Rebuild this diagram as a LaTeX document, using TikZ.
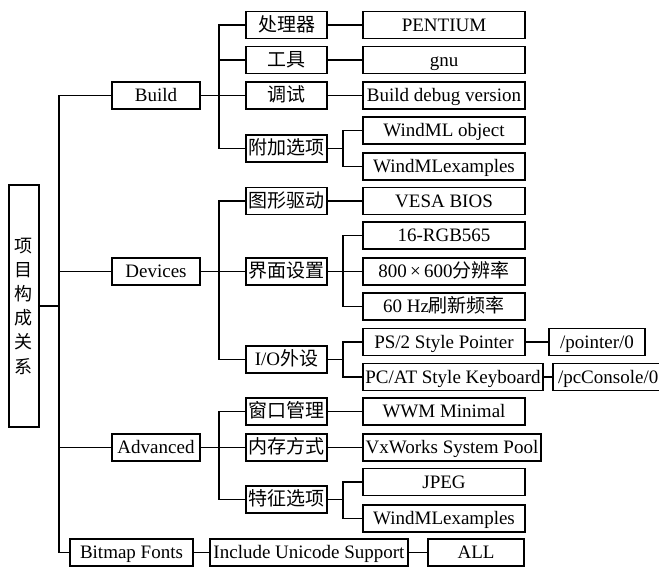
\documentclass[tikz,border=0pt]{standalone}
\usepackage{fontspec}
\setmainfont{Liberation Serif}
\newfontfamily\cjk{Noto Sans CJK SC}
\tikzset{
  box/.style={draw, line width=1.6pt, inner sep=0pt, minimum height=27pt,
    text height=16pt, text depth=3.6pt,
    font=\fontsize{19}{20}\selectfont, anchor=center},
  lone/.style={box, minimum width=88pt},
  ltwo/.style={box, minimum width=81pt},
  lthree/.style={box, minimum width=162pt},
  conn/.style={line width=1.6pt},
}
\begin{document}
\begin{tikzpicture}[x=1pt,y=-1pt]
\clip (0,0) rectangle (659,566);
\fill[white] (0,0) rectangle (659,566);
% root
\node[draw, line width=1.6pt, minimum width=30pt, minimum height=242pt, inner sep=0pt,
  align=center, font=\fontsize{18}{24.2}\selectfont\cjk] (root) at (24,306) {项\\目\\构\\成\\关\\系};
% level 1
\node[lone] (build) at (156,95.5) {Build};
\node[lone] (dev) at (156,271.5) {Devices};
\node[lone] (adv) at (156,447.5) {Advanced};
\node[box, minimum width=123pt] (bmf) at (131.5,552.5) {Bitmap Fonts};
% level 2
\node[ltwo] (cpu) at (286.5,25) {\cjk 处理器};
\node[ltwo] (tool) at (286.5,60) {\cjk 工具};
\node[ltwo] (dbg) at (286.5,95.5) {\cjk 调试};
\node[ltwo] (addl) at (286.5,148.5) {\cjk 附加选项};
\node[ltwo] (gfx) at (286.5,201) {\cjk 图形驱动};
\node[ltwo] (ui) at (286.5,271.5) {\cjk 界面设置};
\node[ltwo] (io) at (286.5,359.5) {I/O{\cjk 外设}};
\node[ltwo] (win) at (286.5,411.5) {\cjk 窗口管理};
\node[ltwo] (mem) at (286.5,447.5) {\cjk 内存方式};
\node[ltwo] (feat) at (286.5,499.5) {\cjk 特征选项};
\node[box, minimum width=198pt] (uni) at (309,552.5) {Include Unicode Support};
% level 3
\node[lthree] (pent) at (444,25) {PENTIUM};
\node[lthree] (gnu) at (444,60) {gnu};
\node[lthree] (bdv) at (444,95.5) {Build debug version};
\node[lthree] (wmo) at (444,130.5) {WindML object};
\node[lthree] (wme) at (444,166.5) {WindMLexamples};
\node[lthree] (vesa) at (444,201) {VESA BIOS};
\node[lthree] (rgb) at (444,235.5) {16-RGB565};
\node[lthree] (res) at (444,271.5) {800\,×\,600{\cjk 分辨率}};
\node[lthree] (hz) at (444,306.5) {60 Hz{\cjk 刷新频率}};
\node[lthree] (ps2) at (444,342) {PS/2 Style Pointer};
\node[box, minimum width=180pt] (pcat) at (453,377) {PC/AT Style Keyboard};
\node[lthree] (wwm) at (444,411.5) {WWM Minimal};
\node[box, minimum width=178pt] (vxw) at (452,447.5) {VxWorks System Pool};
\node[lthree] (jpeg) at (444,482) {JPEG};
\node[lthree] (wme2) at (444,518.5) {WindMLexamples};
\node[box, minimum width=96pt] (all) at (476,552.5) {ALL};
% level 4
\node[box, minimum width=96pt] (ptr) at (597,342) {/pointer/0};
\node[box, minimum width=117pt, text width=107pt, align=left] (pcc) at (611.5,377) {/pcConsole/0};
% junction coordinates
\coordinate (tr) at (59,306);
\coordinate (jb) at (219,0);
\coordinate (jc) at (343,0);
% trunk
\draw[conn] (build.west) -- (build.west -| tr) -- (bmf.west -| tr) -- (bmf.west);
\draw[conn] (dev.west) -- (dev.west -| tr);
\draw[conn] (adv.west) -- (adv.west -| tr);
\draw[conn] (root.east) -- (root.east -| tr);
% build subtree
\draw[conn] (build.east) -- (dbg.west);
\draw[conn] (cpu.west) -- (cpu.west -| jb) -- (addl.west -| jb) -- (addl.west);
\draw[conn] (tool.west) -- (tool.west -| jb);
\draw[conn] (cpu.east) -- (pent.west);
\draw[conn] (tool.east) -- (gnu.west);
\draw[conn] (dbg.east) -- (bdv.west);
\draw[conn] (addl.east) -- (addl.east -| jc);
\draw[conn] (wmo.west) -- (wmo.west -| jc) -- (wme.west -| jc) -- (wme.west);
% devices subtree
\draw[conn] (dev.east) -- (ui.west);
\draw[conn] (gfx.west) -- (gfx.west -| jb) -- (io.west -| jb) -- (io.west);
\draw[conn] (gfx.east) -- (vesa.west);
\draw[conn] (ui.east) -- (res.west);
\draw[conn] (rgb.west) -- (rgb.west -| jc) -- (hz.west -| jc) -- (hz.west);
\draw[conn] (io.east) -- (io.east -| jc);
\draw[conn] (ps2.west) -- (ps2.west -| jc) -- (pcat.west -| jc) -- (pcat.west);
\draw[conn] (ps2.east) -- (ptr.west);
\draw[conn] (pcat.east) -- (pcc.west);
% advanced subtree
\draw[conn] (adv.east) -- (mem.west);
\draw[conn] (win.west) -- (win.west -| jb) -- (feat.west -| jb) -- (feat.west);
\draw[conn] (win.east) -- (wwm.west);
\draw[conn] (mem.east) -- (vxw.west);
\draw[conn] (feat.east) -- (feat.east -| jc);
\draw[conn] (jpeg.west) -- (jpeg.west -| jc) -- (wme2.west -| jc) -- (wme2.west);
% bitmap fonts
\draw[conn] (bmf.east) -- (uni.west);
\draw[conn] (uni.east) -- (all.west);
\end{tikzpicture}
\end{document}
